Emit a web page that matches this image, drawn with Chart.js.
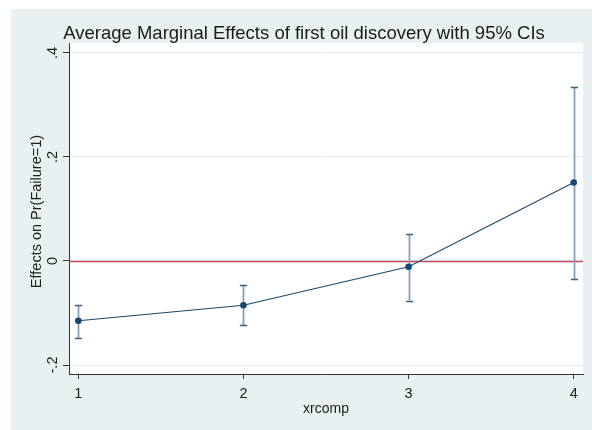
<!DOCTYPE html>
<html>
<head>
<meta charset="utf-8">
<script src="https://cdn.jsdelivr.net/npm/chart.js@4.4.1/dist/chart.umd.min.js"></script>
<style>
  html, body { margin: 0; padding: 0; background: #ffffff; overflow: hidden; }
  #wrap { width: 592px; height: 430px; position: relative; }
  canvas { display: block; }
</style>
</head>
<body>
<div id="wrap"><canvas id="c" width="592" height="430"></canvas></div>
<script>
// Average marginal effects of first oil discovery by xrcomp, with 95% CIs
const xrcomp = [1, 2, 3, 4];
const margin = [-0.115, -0.085, -0.011, 0.151];
const ciLow  = [-0.148, -0.124, -0.076, -0.035];
const ciHigh = [-0.085, -0.047, 0.052, 0.335];

const xTicks = [1, 2, 3, 4];
const xTickLabels = ['1', '2', '3', '4'];
const yTicks = [-0.2, 0, 0.2, 0.4];
const yTickLabels = ['-.2', '0', '.2', '.4'];

const titleText = 'Average Marginal Effects of first oil discovery with 95% CIs';
const xTitle = 'xrcomp';
const yTitle = 'Effects on Pr(Failure=1)';

const FONT = '"Liberation Sans", Arial, sans-serif';
const NAVY = '#1A476F';
const INK = '#1b1b1b';

const decor = {
  id: 'decor',
  beforeDraw(chart) {
    const ctx = chart.ctx, a = chart.chartArea;
    ctx.save();
    ctx.fillStyle = '#ffffff';
    ctx.fillRect(0, 0, chart.width, chart.height);
    ctx.fillStyle = '#E9F0F2';
    ctx.fillRect(11, 9, chart.width - 11, chart.height - 9);
    ctx.fillStyle = '#ffffff';
    ctx.fillRect(a.left, a.top, a.right - a.left, a.bottom - a.top);
    ctx.restore();
  },
  beforeDatasetsDraw(chart) {
    const ctx = chart.ctx, a = chart.chartArea;
    const xs = chart.scales.x, ys = chart.scales.y;
    ctx.save();
    // reference line at zero
    const y0 = Math.round(ys.getPixelForValue(0)) + 0.5;
    ctx.strokeStyle = '#C9485B';
    ctx.lineWidth = 1.4;
    ctx.beginPath();
    ctx.moveTo(a.left, y0);
    ctx.lineTo(a.right, y0);
    ctx.stroke();
    // confidence interval bars with caps
    for (let i = 0; i < xrcomp.length; i++) {
      const px = Math.round(xs.getPixelForValue(xrcomp[i])) + 0.5;
      const pLo = ys.getPixelForValue(ciLow[i]);
      const pHi = ys.getPixelForValue(ciHigh[i]);
      ctx.strokeStyle = '#86A0B8';
      ctx.lineWidth = 1.8;
      ctx.beginPath();
      ctx.moveTo(px, pLo);
      ctx.lineTo(px, pHi);
      ctx.stroke();
      ctx.strokeStyle = '#3E6283';
      ctx.lineWidth = 1.3;
      ctx.beginPath();
      ctx.moveTo(px - 3.7, Math.round(pLo) + 0.5);
      ctx.lineTo(px + 3.7, Math.round(pLo) + 0.5);
      ctx.moveTo(px - 3.7, Math.round(pHi) + 0.5);
      ctx.lineTo(px + 3.7, Math.round(pHi) + 0.5);
      ctx.stroke();
    }
    ctx.restore();
  },
  afterDraw(chart) {
    const ctx = chart.ctx, a = chart.chartArea;
    const xs = chart.scales.x, ys = chart.scales.y;
    ctx.save();
    ctx.fillStyle = INK;
    // title
    ctx.font = '18.5px ' + FONT;
    ctx.textAlign = 'center';
    ctx.textBaseline = 'alphabetic';
    ctx.fillText(titleText, 304, 39);
    // x tick labels and title
    ctx.font = '14.5px ' + FONT;
    xTicks.forEach((v, i) => {
      ctx.fillText(xTickLabels[i], xs.getPixelForValue(v), 398);
    });
    ctx.font = '14px ' + FONT;
    ctx.fillText(xTitle, (a.left + a.right) / 2, 413);
    // y tick labels, vertical
    ctx.font = '14.5px ' + FONT;
    yTicks.forEach((v, i) => {
      ctx.save();
      ctx.translate(57, ys.getPixelForValue(v));
      ctx.rotate(-Math.PI / 2);
      ctx.fillText(yTickLabels[i], 0, 0);
      ctx.restore();
    });
    ctx.font = '14.5px ' + FONT;
    ctx.save();
    ctx.translate(41, (a.top + a.bottom) / 2 + 3);
    ctx.rotate(-Math.PI / 2);
    ctx.fillText(yTitle, 0, 0);
    ctx.restore();
    ctx.restore();
  }
};

new Chart(document.getElementById('c'), {
  type: 'line',
  data: {
    datasets: [{
      data: xrcomp.map((x, i) => ({ x: x, y: margin[i] })),
      borderColor: NAVY,
      borderWidth: 1.1,
      pointBackgroundColor: NAVY,
      pointBorderColor: NAVY,
      pointRadius: 3.3,
      pointBorderWidth: 0,
      tension: 0,
      fill: false
    }]
  },
  options: {
    responsive: false,
    animation: false,
    devicePixelRatio: 1,
    layout: { padding: { left: 63, right: 9, top: 43, bottom: 51 } },
    plugins: { legend: { display: false }, tooltip: { enabled: false }, title: { display: false } },
    scales: {
      x: {
        type: 'linear',
        min: 0.9437,
        max: 4.0563,
        afterBuildTicks: s => { s.ticks = xTicks.map(v => ({ value: v })); },
        ticks: { display: false },
        grid: { drawOnChartArea: false, drawTicks: true, tickLength: 5, tickColor: '#333333', tickWidth: 1 },
        border: { display: true, color: '#333333', width: 1 }
      },
      y: {
        type: 'linear',
        min: -0.2173,
        max: 0.4192,
        afterBuildTicks: s => { s.ticks = yTicks.map(v => ({ value: v })); },
        ticks: { display: false },
        grid: { drawOnChartArea: true, color: '#E9EFF1', lineWidth: 1, drawTicks: true, tickLength: 6, tickColor: '#333333', tickWidth: 1 },
        border: { display: true, color: '#333333', width: 1 }
      }
    }
  },
  plugins: [decor]
});
</script>
</body>
</html>
